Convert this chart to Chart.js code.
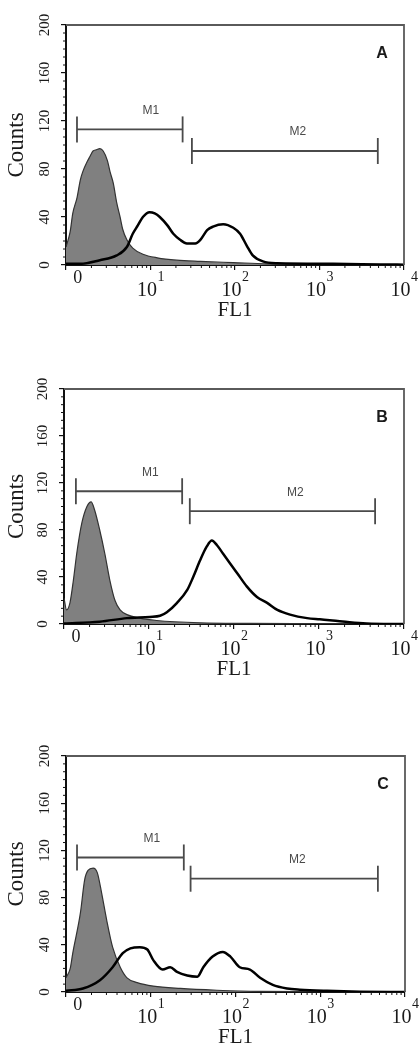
<!DOCTYPE html>
<html>
<head>
<meta charset="utf-8">
<script src="https://cdn.jsdelivr.net/npm/chart.js@4.4.1/dist/chart.umd.min.js"></script>
<style>
  html, body { margin: 0; padding: 0; background: #fff; }
  body { width: 420px; height: 1050px; position: relative; overflow: hidden; }
  canvas { position: absolute; left: 0; }
</style>
</head>
<body>
<canvas id="panelA" width="420" height="323" style="top:0px"></canvas>
<canvas id="panelB" width="420" height="322" style="top:360px"></canvas>
<canvas id="panelC" width="420" height="320" style="top:730px"></canvas>
<script>
// x values are decades of FL1 (0 = 10^0 ... 4 = 10^4), y values are counts

// --- Panel A ---
const ctlA_x = [0, 0.05, 0.08, 0.13, 0.17, 0.20, 0.25, 0.28, 0.32, 0.36, 0.40, 0.44, 0.49, 0.52, 0.56, 0.60, 0.64, 0.67, 0.72, 0.79, 0.91, 1.08, 1.31, 1.59, 1.98, 2.38, 2.77, 3.30, 4];
const ctlA_y = [15, 28, 43, 56, 71, 78, 86, 90, 95, 96, 97, 95, 87, 78, 68, 52, 40, 30, 21, 14, 9, 6, 4, 3, 2, 1, 0.6, 0.3, 0];
const smpA_x = [0, 0.17, 0.40, 0.60, 0.72, 0.79, 0.85, 0.91, 0.99, 1.05, 1.11, 1.20, 1.27, 1.35, 1.43, 1.53, 1.59, 1.67, 1.74, 1.86, 1.98, 2.06, 2.14, 2.21, 2.33, 2.50, 3.16, 3.72, 4];
const smpA_y = [1, 1, 4, 8, 15, 26, 33, 40, 44, 43, 40, 33, 26, 21, 18, 18, 21, 29, 32, 34, 31, 26, 16, 8, 3, 1.5, 1, 0.5, 0.3];
const gatesA = [[0.13, 1.38, 113], [1.49, 3.69, 95]];

// --- Panel B ---
const ctlB_x = [0, 0.03, 0.07, 0.11, 0.15, 0.21, 0.27, 0.32, 0.36, 0.42, 0.48, 0.54, 0.60, 0.66, 0.74, 0.89, 1.09, 1.60, 2.19, 3.00, 4];
const ctlB_y = [22, 12, 18, 37, 60, 86, 100, 104, 97, 80, 60, 37, 20, 12, 8, 5, 3, 1, 0.5, 0.3, 0];
const smpB_x = [0, 0.42, 0.74, 1.01, 1.13, 1.21, 1.33, 1.45, 1.52, 1.60, 1.68, 1.74, 1.80, 1.87, 1.95, 2.04, 2.15, 2.27, 2.39, 2.51, 2.66, 2.86, 3.01, 3.16, 3.36, 3.56, 4];
const smpB_y = [0.5, 2, 5, 6, 7, 10, 18, 29, 40, 54, 66, 71, 67, 60, 52, 43, 32, 23, 18, 12, 8, 5, 4, 3, 1.5, 0.5, 0];
const gatesB = [[0.14, 1.39, 113], [1.48, 3.66, 96]];

// --- Panel C ---
const ctlC_x = [0, 0.05, 0.08, 0.17, 0.22, 0.26, 0.32, 0.37, 0.42, 0.48, 0.55, 0.64, 0.72, 0.84, 1.03, 1.35, 1.78, 2.29, 3.00, 4];
const ctlC_y = [12, 20, 33, 67, 95, 103, 105, 101, 84, 61, 38, 21, 12, 8, 5, 3, 1.5, 0.5, 0.3, 0];
const smpC_x = [0, 0.20, 0.40, 0.55, 0.67, 0.76, 0.87, 0.96, 1.03, 1.14, 1.23, 1.31, 1.43, 1.55, 1.62, 1.73, 1.85, 1.94, 2.05, 2.17, 2.29, 2.44, 2.61, 2.76, 3.08, 3.47, 4];
const smpC_y = [1, 3, 10, 21, 33, 37, 38, 36, 27, 19, 21, 17, 14, 13, 21, 30, 34, 30, 21, 19, 12, 6, 3, 2, 1, 0.3, 0];
const gatesC = [[0.13, 1.39, 114], [1.47, 3.68, 96]];

const gateNames = ["M1", "M2"];
const xTickExp = ["1", "2", "3", "4"];

// === Styling ===
const chartProps = {
    serif: "'Liberation Serif', 'Times New Roman', serif",
    sans: "'Liberation Sans', Arial, sans-serif",
    axisColor: "#111",
    frameColor: "#5a5a5a",
    tickText: "#1a1a1a",
    controlFill: "#808080",
    controlLine: "#333",
    sampleColor: "#000",
    gateColor: "#4a4a4a",
    gateLabelFrac: [0.7, 0.57],
    xAxisHeight: 58
};

function toPoints(xs, ys) {
    return xs.map((x, i) => ({ x: x, y: ys[i] }));
}

function gateDataset(g) {
    return {
        data: [{ x: g[0], y: g[2] }, { x: g[1], y: g[2] }],
        borderColor: chartProps.gateColor,
        borderWidth: 1.8,
        pointStyle: "line",
        pointRadius: 13,
        pointBorderWidth: 1.8,
        pointBorderColor: chartProps.gateColor,
        pointRotation: 90,
        fill: false,
        order: 0
    };
}

const flowDecor = {
    id: "flowDecor",
    afterDraw(chart, args, opts) {
        const { ctx, chartArea: a, scales: { x, y } } = chart;
        ctx.save();

        // top and right frame
        ctx.strokeStyle = chartProps.frameColor;
        ctx.lineWidth = 1.8;
        ctx.beginPath();
        ctx.moveTo(a.left, a.top);
        ctx.lineTo(a.right, a.top);
        ctx.lineTo(a.right, a.bottom);
        ctx.stroke();

        // minor ticks
        ctx.strokeStyle = chartProps.axisColor;
        ctx.lineWidth = 1;
        ctx.beginPath();
        for (let i = 1; i < 30; i++) {
            if (i % 6 === 0) continue;
            const py = y.getPixelForValue(i * 40 / 6);
            ctx.moveTo(a.left - 3, py);
            ctx.lineTo(a.left, py);
        }
        for (let d = 0; d < 4; d++) {
            for (let k = 2; k < 10; k++) {
                const px = x.getPixelForValue(d + Math.log10(k));
                ctx.moveTo(px, a.bottom);
                ctx.lineTo(px, a.bottom + 3);
            }
        }
        ctx.stroke();

        // x tick labels: 0, 10^1 ... 10^4
        ctx.fillStyle = chartProps.tickText;
        ctx.textBaseline = "middle";
        ctx.textAlign = "center";
        ctx.font = "18px " + chartProps.serif;
        ctx.fillText("0", x.getPixelForValue(0.14), a.bottom + 13);
        xTickExp.forEach((e, i) => {
            const px = x.getPixelForValue(i + 1);
            ctx.font = "20px " + chartProps.serif;
            const wBase = ctx.measureText("10").width;
            ctx.font = "14px " + chartProps.serif;
            const wExp = ctx.measureText(e).width;
            const start = px - (wBase + wExp) / 2;
            ctx.textAlign = "left";
            ctx.font = "20px " + chartProps.serif;
            ctx.fillText("10", start, a.bottom + 26);
            ctx.font = "14px " + chartProps.serif;
            ctx.fillText(e, start + wBase + 0.5, a.bottom + 12);
        });

        // gate labels
        ctx.fillStyle = chartProps.gateColor;
        ctx.textAlign = "center";
        ctx.font = "12px " + chartProps.sans;
        [2, 3].forEach((di, gi) => {
            const pts = chart.getDatasetMeta(di).data;
            const lx = pts[0].x + chartProps.gateLabelFrac[gi] * (pts[1].x - pts[0].x);
            ctx.fillText(gateNames[gi], lx, pts[0].y - 19);
        });

        // panel letter
        ctx.fillStyle = "#1a1a1a";
        ctx.font = "bold 16px " + chartProps.sans;
        ctx.fillText(opts.letter, a.right - 22, a.top + 29);

        ctx.restore();
    }
};

function createPanel(id, p) {
    return new Chart(document.getElementById(id), {
        type: "line",
        data: {
            datasets: [
                {
                    label: "sample",
                    data: toPoints(p.smpX, p.smpY),
                    borderColor: chartProps.sampleColor,
                    borderWidth: 2.5,
                    pointRadius: 0,
                    fill: false,
                    cubicInterpolationMode: "monotone",
                    order: 1
                },
                {
                    label: "control",
                    data: toPoints(p.ctlX, p.ctlY),
                    borderColor: chartProps.controlLine,
                    backgroundColor: chartProps.controlFill,
                    borderWidth: 1.2,
                    pointRadius: 0,
                    fill: "origin",
                    cubicInterpolationMode: "monotone",
                    order: 2
                },
                gateDataset(p.gates[0]),
                gateDataset(p.gates[1])
            ]
        },
        options: {
            responsive: false,
            animation: false,
            layout: { padding: { top: p.top, right: p.right, left: 0, bottom: 0 } },
            scales: {
                x: {
                    type: "linear",
                    min: 0,
                    max: 4,
                    afterFit: s => { s.height = chartProps.xAxisHeight; },
                    ticks: { display: false, stepSize: 1 },
                    grid: { drawOnChartArea: false, tickLength: 5, color: chartProps.axisColor, lineWidth: 1.2 },
                    border: { display: true, color: chartProps.axisColor, width: 2 },
                    title: {
                        display: true,
                        text: "FL1",
                        color: chartProps.tickText,
                        font: { family: chartProps.serif, size: 21 },
                        padding: 0
                    }
                },
                y: {
                    min: 0,
                    max: 200,
                    afterFit: s => { s.width = p.left; },
                    ticks: {
                        stepSize: 40,
                        autoSkip: false,
                        minRotation: 90,
                        maxRotation: 90,
                        crossAlign: "center",
                        padding: 5,
                        color: chartProps.tickText,
                        font: { family: chartProps.serif, size: 15 }
                    },
                    grid: { drawOnChartArea: false, tickLength: 5, color: chartProps.axisColor, lineWidth: 1.2 },
                    border: { display: true, color: chartProps.axisColor, width: 2 },
                    title: {
                        display: true,
                        text: "Counts",
                        color: chartProps.tickText,
                        font: { family: chartProps.serif, size: 23 },
                        padding: { top: 3, bottom: 0 }
                    }
                }
            },
            plugins: {
                legend: { display: false },
                tooltip: { enabled: false },
                flowDecor: { letter: p.letter }
            }
        },
        plugins: [flowDecor]
    });
}

createPanel("panelA", { letter: "A", top: 25, left: 66, right: 16, ctlX: ctlA_x, ctlY: ctlA_y, smpX: smpA_x, smpY: smpA_y, gates: gatesA });
createPanel("panelB", { letter: "B", top: 29, left: 64, right: 16, ctlX: ctlB_x, ctlY: ctlB_y, smpX: smpB_x, smpY: smpB_y, gates: gatesB });
createPanel("panelC", { letter: "C", top: 26, left: 66, right: 15, ctlX: ctlC_x, ctlY: ctlC_y, smpX: smpC_x, smpY: smpC_y, gates: gatesC });
</script>
</body>
</html>
